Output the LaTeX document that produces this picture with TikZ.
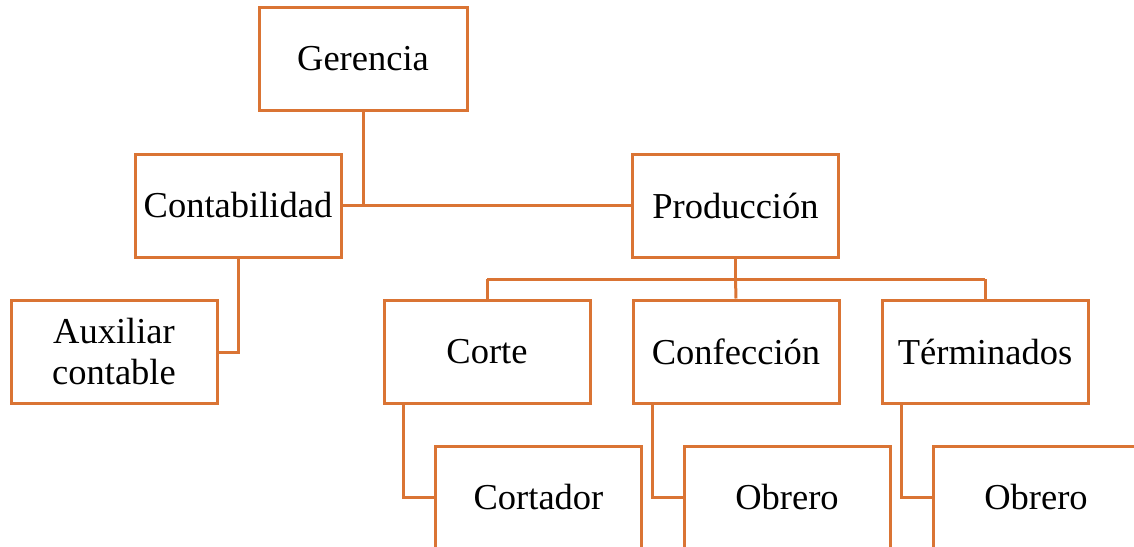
\documentclass[tikz,border=0pt]{standalone}
\usepackage{fontspec}
\setmainfont{Liberation Serif}
\usetikzlibrary{calc}
\definecolor{orgline}{RGB}{218,116,52}
\tikzset{
  box/.style={draw=orgline, line width=3pt, fill=white, minimum width=206pt, minimum height=103pt, inner sep=0pt, align=center, font=\fontsize{36.5}{41}\selectfont},
  conn/.style={draw=orgline, line width=3pt}
}
\begin{document}
\begin{tikzpicture}[x=1pt,y=-1pt]
\useasboundingbox (0,0) rectangle (1134,546);
\clip (0,0) rectangle (1134,546);
\node[box, minimum width=208pt] (ger) at (363,59) {Gerencia};
\node[box] (con) at (238,205.5) {Contabilidad};
\node[box] (pro) at (735.5,205.5) {Producción};
\node[box] (aux) at (114,352) {Auxiliar\\contable};
\node[box] (cor) at (487,351.5) {Corte};
\node[box] (cnf) at (736,351.5) {Confección};
\node[box] (ter) at (985,351.5) {Términados};
\node[box] (ctd) at (538.5,497.5) {Cortador};
\node[box] (ob1) at (787,497.5) {Obrero};
\node[box] (ob2) at (1036,497.5) {Obrero};
\coordinate (bus) at (pro.south |- 0,279);
\coordinate (busL) at (cor.north |- bus);
\coordinate (busR) at (ter.north |- bus);
\coordinate (corx) at ($(cor.south west)+(21,0)$);
\coordinate (cnfx) at ($(cnf.south west)+(21,0)$);
\coordinate (terx) at ($(ter.south west)+(21,0)$);
\draw[conn] (con.east) -- (pro.west);
\draw[conn] (ger.south) -- (ger.south |- con.east);
\draw[conn] (con.south) |- (aux.east);
\draw[conn] (pro.south) -- (bus);
\draw[conn] (busL) -- (busR);
\draw[conn] (busL) -- (cor.north);
\draw[conn] (bus) -- (cnf.north);
\draw[conn] (busR) -- (ter.north);
\draw[conn] (corx) |- (ctd.west);
\draw[conn] (cnfx) |- (ob1.west);
\draw[conn] (terx) |- (ob2.west);
\end{tikzpicture}
\end{document}
